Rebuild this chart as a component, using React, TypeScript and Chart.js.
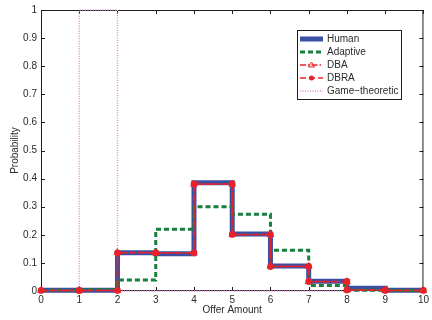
import React, { useEffect, useRef } from "react";
import { Chart, registerables } from "chart.js";

Chart.register(...registerables);

// Offer amounts (step boundaries) and per-interval probabilities
const offerAmounts = [0, 1, 2, 3, 4, 5, 6, 7, 8, 9, 10];
const human = [0.003, 0.003, 0.136, 0.133, 0.385, 0.203, 0.089, 0.035, 0.01, 0.003];
const adaptive = [0.003, 0.005, 0.039, 0.22, 0.3, 0.273, 0.145, 0.02, 0.003, 0.002];
const dba = [0.002, 0.002, 0.137, 0.135, 0.38, 0.2, 0.088, 0.033, 0.004, 0.002];
const dbra = [0.002, 0.002, 0.136, 0.136, 0.381, 0.201, 0.087, 0.034, 0.004, 0.002];
const gameTheoretic = [0, 1, 0, 0, 0, 0, 0, 0, 0, 0];

const yTicks = [0, 0.1, 0.2, 0.3, 0.4, 0.5, 0.6, 0.7, 0.8, 0.9, 1];
const seriesNames = ["Human", "Adaptive", "DBA", "DBRA", "Game\u2212theoretic"];

const FONT = "'Liberation Sans', Arial, Helvetica, sans-serif";
const TEXT = "#2a2a2a";
const AXIS = "#1e1e1e";

// Turn per-interval values into explicit stair corner points
function stairs(values: number[]) {
  const pts: { x: number; y: number }[] = [];
  values.forEach((v, i) => {
    pts.push({ x: offerAmounts[i], y: v });
    pts.push({ x: offerAmounts[i + 1], y: v });
  });
  return pts;
}

// Box around the axes with inward-pointing ticks on all four sides
const framePlugin = {
  id: "frame",
  beforeDatasetsDraw(chart: any) {
    const { ctx, chartArea: a, scales } = chart;
    ctx.save();
    ctx.strokeStyle = AXIS;
    ctx.lineWidth = 1;
    ctx.strokeRect(a.left + 0.5, a.top + 0.5, a.right - a.left - 1, a.bottom - a.top - 1);
    const len = 4;
    ctx.beginPath();
    offerAmounts.forEach((v) => {
      const px = Math.round(scales.x.getPixelForValue(v)) + 0.5;
      ctx.moveTo(px, a.bottom);
      ctx.lineTo(px, a.bottom - len);
      ctx.moveTo(px, a.top);
      ctx.lineTo(px, a.top + len);
    });
    yTicks.forEach((v) => {
      const py = Math.round(scales.y.getPixelForValue(v)) + 0.5;
      ctx.moveTo(a.left, py);
      ctx.lineTo(a.left + len, py);
      ctx.moveTo(a.right, py);
      ctx.lineTo(a.right - len, py);
    });
    ctx.stroke();
    ctx.restore();
  },
};

// Boxed legend inside the plot area, upper right
const legendPlugin = {
  id: "boxLegend",
  afterDraw(chart: any) {
    const { ctx } = chart;
    const x0 = 297;
    const y0 = 30;
    const w = 104;
    const h = 69;
    ctx.save();
    ctx.fillStyle = "#ffffff";
    ctx.fillRect(x0, y0, w, h);
    ctx.strokeStyle = AXIS;
    ctx.lineWidth = 1;
    ctx.strokeRect(x0 + 0.5, y0 + 0.5, w, h);
    ctx.font = `10px ${FONT}`;
    ctx.textBaseline = "middle";
    seriesNames.forEach((name, i) => {
      const ds = chart.data.datasets[i];
      const y = y0 + 9 + i * 13;
      const lx0 = x0 + 3;
      const lx1 = x0 + 26;
      ctx.save();
      ctx.strokeStyle = ds.borderColor;
      ctx.lineWidth = ds.borderWidth;
      ctx.setLineDash(ds.borderDash || []);
      ctx.beginPath();
      ctx.moveTo(lx0, y);
      ctx.lineTo(lx1, y);
      ctx.stroke();
      ctx.restore();
      if (ds.pointRadius > 0) {
        const cx = (lx0 + lx1) / 2;
        ctx.fillStyle = ds.pointBackgroundColor;
        ctx.strokeStyle = ds.pointBorderColor;
        ctx.lineWidth = 1;
        ctx.beginPath();
        if (ds.pointStyle === "triangle") {
          ctx.moveTo(cx, y - 3);
          ctx.lineTo(cx + 3, y + 2);
          ctx.lineTo(cx - 3, y + 2);
          ctx.closePath();
          ctx.stroke();
        } else {
          ctx.arc(cx, y, 2.5, 0, Math.PI * 2);
          ctx.fill();
        }
      }
      ctx.fillStyle = TEXT;
      ctx.textAlign = "left";
      ctx.fillText(name, x0 + 30, y + 0.5);
    });
    ctx.restore();
  },
};

export default function App() {
  const canvasRef = useRef<HTMLCanvasElement | null>(null);

  useEffect(() => {
    if (!canvasRef.current) return;
    Chart.defaults.font.family = FONT;
    Chart.defaults.font.size = 10;
    Chart.defaults.color = TEXT;

    const red = "#e8222b";
    const chart = new Chart(canvasRef.current, {
      type: "line",
      data: {
        datasets: [
          {
            label: seriesNames[0],
            data: stairs(human),
            borderColor: "#3b4fa3",
            borderWidth: 5,
            pointRadius: 0,
            order: 5,
            clip: false as any,
          },
          {
            label: seriesNames[1],
            data: stairs(adaptive),
            borderColor: "#17803c",
            borderWidth: 3,
            borderDash: [5, 3],
            pointRadius: 0,
            order: 4,
            clip: false as any,
          },
          {
            label: seriesNames[2],
            data: stairs(dba),
            borderColor: red,
            borderWidth: 1.5,
            borderDash: [6, 2, 1.5, 2],
            pointStyle: "triangle",
            pointRadius: 3,
            pointBackgroundColor: red,
            pointBorderColor: red,
            order: 2,
            clip: false as any,
          },
          {
            label: seriesNames[3],
            data: stairs(dbra),
            borderColor: red,
            borderWidth: 1.5,
            borderDash: [6, 3],
            pointStyle: "circle",
            pointRadius: 2.6,
            pointBackgroundColor: red,
            pointBorderColor: red,
            order: 1,
            clip: false as any,
          },
          {
            label: seriesNames[4],
            data: stairs(gameTheoretic),
            borderColor: "#dc8fd6",
            borderWidth: 1.5,
            borderDash: [1, 1.5],
            pointRadius: 0,
            order: 6,
            clip: false as any,
          },
        ],
      },
      options: {
        animation: false,
        responsive: false,
        layout: { padding: { top: 10, right: 4, left: 0, bottom: 0 } },
        plugins: { legend: { display: false }, tooltip: { enabled: false } },
        elements: { line: { tension: 0 } },
        scales: {
          x: {
            type: "linear",
            min: 0,
            max: 10,
            grid: { display: false, drawTicks: false },
            border: { display: false },
            ticks: { stepSize: 1, padding: 3, color: TEXT, maxRotation: 0 },
            title: {
              display: true,
              text: "Offer Amount",
              color: TEXT,
              font: { size: 10 },
              padding: { top: 0, bottom: 4 },
            },
            afterFit: (s: any) => {
              s.height = 29;
            },
          },
          y: {
            type: "linear",
            min: 0,
            max: 1,
            grid: { display: false, drawTicks: false },
            border: { display: false },
            afterBuildTicks: (s: any) => {
              s.ticks = yTicks.map((v) => ({ value: v }));
            },
            ticks: {
              padding: 4,
              color: TEXT,
              callback: (v: any) => String(Math.round(Number(v) * 10) / 10),
            },
            title: {
              display: true,
              text: "Probability",
              color: TEXT,
              font: { size: 10 },
              padding: { top: 9, bottom: 0 },
            },
            afterFit: (s: any) => {
              s.width = 41;
            },
          },
        },
      },
      plugins: [framePlugin, legendPlugin],
    });
    return () => chart.destroy();
  }, []);

  return (
    <div style={{ position: "fixed", left: 0, top: 0, width: 432, height: 320, background: "#fff" }}>
      <canvas ref={canvasRef} width={432} height={320} />
    </div>
  );
}
